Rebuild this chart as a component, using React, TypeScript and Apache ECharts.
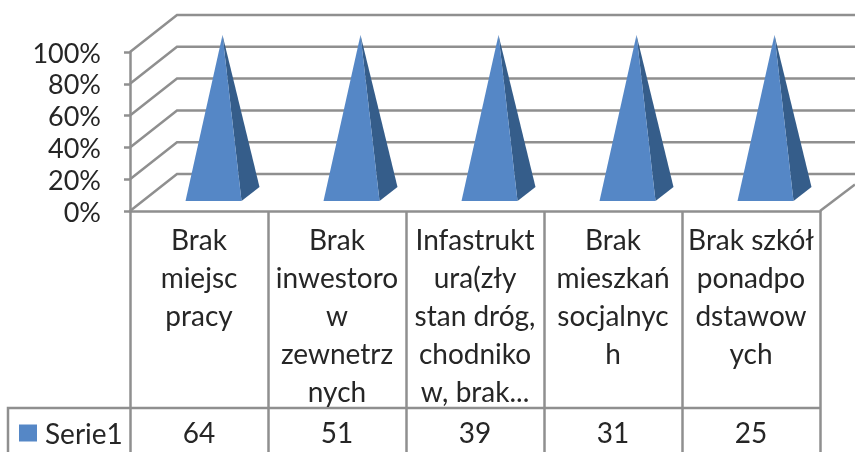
import React, { useEffect, useRef } from "react";
import * as echarts from "echarts";

const categories = [
  "Brak\nmiejsc\npracy",
  "Brak\ninwestoro\nw\nzewnetrz\nnych",
  "Infastrukt\nura(zły\nstan dróg,\nchodniko\nw, brak...",
  "Brak\nmieszkań\nsocjalnyc\nh",
  "Brak szkół\nponadpo\ndstawow\nych",
];
const tableValues = ["64", "51", "39", "31", "25"];
const seriesName = "Serie1";
// Every pyramid reaches the top of the 100% stacked axis.
const shares = [100, 100, 100, 100, 100];
const gridTicks = [0, 20, 40, 60, 80, 100];

const FONT = "Lato";
const TEXT = "#262626";
const LINE = "#8f8f8f";
const LINE_W = 2.5;
const FRONT = "#5587c6";
const SIDE = "#355d8a";
const DEPTH_X = 47;
const DEPTH_Y = 37;

export default function App() {
  const ref = useRef<HTMLDivElement>(null);
  useEffect(() => {
    document.body.style.margin = "0";
    const chart = echarts.init(ref.current!, null, { renderer: "svg" });
    chart.setOption({
      animation: false,
      grid: { left: 130, right: 35, top: 52, bottom: 241 },
      legend: {
        left: 19,
        top: 419,
        padding: 0,
        itemWidth: 18,
        itemHeight: 17,
        itemGap: 0,
        icon: "rect",
        data: [seriesName],
        textStyle: { fontFamily: FONT, fontSize: 28, color: TEXT, padding: [0, 0, 0, 3] },
      },
      xAxis: [
        {
          type: "category",
          data: categories,
          axisLine: { show: true, lineStyle: { color: LINE, width: LINE_W } },
          axisTick: { show: true, length: 241, lineStyle: { color: LINE, width: LINE_W } },
          axisLabel: {
            interval: 0,
            margin: 9,
            fontFamily: FONT,
            fontSize: 28,
            lineHeight: 38,
            color: TEXT,
            verticalAlign: "top",
          },
        },
        {
          type: "category",
          position: "bottom",
          data: tableValues,
          axisLine: { show: false },
          axisTick: { show: false },
          axisLabel: {
            interval: 0,
            margin: 207,
            fontFamily: FONT,
            fontSize: 28,
            color: TEXT,
            verticalAlign: "top",
          },
        },
      ],
      yAxis: {
        type: "value",
        min: 0,
        max: 100,
        interval: 20,
        axisLine: { show: true, lineStyle: { color: LINE, width: LINE_W } },
        axisTick: { show: true, length: 6, lineStyle: { color: LINE, width: LINE_W } },
        splitLine: { show: false },
        axisLabel: {
          formatter: "{value}%",
          margin: 29,
          fontFamily: FONT,
          fontSize: 27,
          color: TEXT,
        },
      },
      graphic: [
        {
          type: "polyline",
          silent: true,
          shape: { points: [[8, 452], [8, 408], [820, 408]] },
          style: { stroke: LINE, lineWidth: LINE_W, fill: "none" },
        },
        {
          type: "line",
          silent: true,
          shape: { x1: 820, y1: 211, x2: 855, y2: 184.5 },
          style: { stroke: LINE, lineWidth: LINE_W },
        },
      ],
      series: [
        {
          type: "custom",
          name: "walls",
          silent: true,
          clip: false,
          z: 1,
          data: gridTicks.map((t) => [0, t]),
          renderItem: (_params: any, api: any) => {
            const p = api.coord([0, api.value(1)]);
            const y = p[1];
            const x0 = 130;
            return {
              type: "polyline",
              shape: {
                points: [
                  [x0, y],
                  [x0 + DEPTH_X, y - DEPTH_Y],
                  [855, y - DEPTH_Y],
                ],
              },
              style: { stroke: LINE, lineWidth: LINE_W, fill: "none" },
            };
          },
        },
        {
          type: "custom",
          name: seriesName,
          clip: false,
          z: 3,
          itemStyle: { color: FRONT },
          data: shares.map((v, i) => [i, v]),
          renderItem: (_params: any, api: any) => {
            const base = api.coord([api.value(0), 0]);
            const top = api.coord([api.value(0), api.value(1)]);
            const cx = base[0] + DEPTH_X / 2;
            const baseY = base[1] - 17;
            const apex = [cx, top[1] - 17];
            const fl = [cx - 37, baseY + 7];
            const fr = [cx + 19, baseY + 7];
            const br = [cx + 37, baseY - 7];
            return {
              type: "group",
              children: [
                { type: "polygon", shape: { points: [apex, fr, br] }, style: { fill: SIDE } },
                { type: "polygon", shape: { points: [apex, fl, fr] }, style: { fill: FRONT } },
              ],
            };
          },
        },
      ],
    });
    return () => chart.dispose();
  }, []);
  return <div ref={ref} style={{ position: "fixed", left: 0, top: 0, width: 855, height: 452 }} />;
}
